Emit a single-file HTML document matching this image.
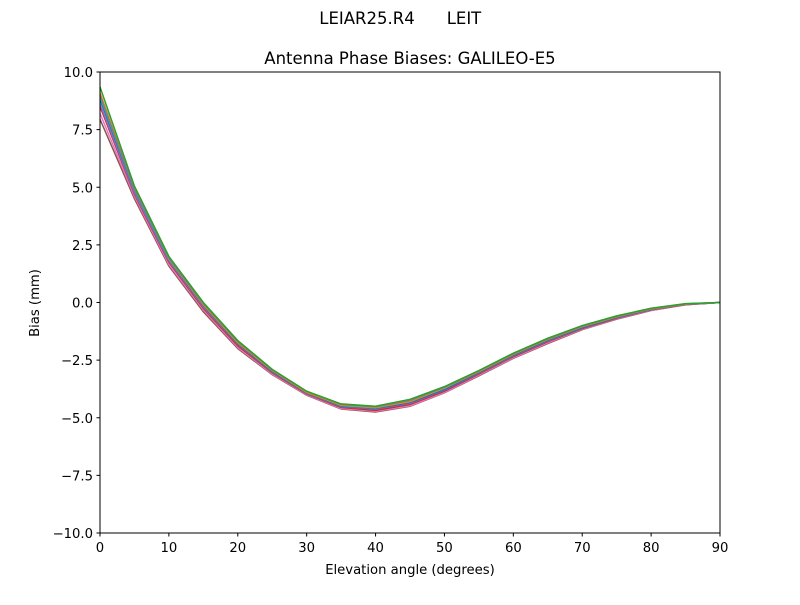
<!DOCTYPE html>
<html><head><meta charset="utf-8"><style>
body{margin:0;background:#fff;font-family:"Liberation Sans","DejaVu Sans",sans-serif}
svg text{font-family:"DejaVu Sans","Liberation Sans",sans-serif;fill:#000}
</style></head><body>
<svg id="chart" width="800" height="600">
<text x="367" y="24" font-size="16.5" text-anchor="middle">LEIAR25.R4</text>
<text x="464" y="24" font-size="16.5" text-anchor="middle">LEIT</text>
<text x="410" y="64" font-size="16.5" text-anchor="middle">Antenna Phase Biases: GALILEO-E5</text>
<g id="marks"></g>
<rect x="100" y="72" width="620" height="461" fill="none" stroke="#000" stroke-width="1"/>
<g id="axes"></g>
<text x="410" y="574" font-size="13.2" text-anchor="middle">Elevation angle (degrees)</text>
<text x="39" y="303" font-size="13.2" text-anchor="middle" transform="rotate(-90 39 303)">Bias (mm)</text>
</svg>
<script>
const elevations=[0,5,10,15,20,25,30,35,40,45,50,55,60,65,70,75,80,85,90];
const xTicks=[0,10,20,30,40,50,60,70,80,90];
const yTicks=[10,7.5,5,2.5,0,-2.5,-5,-7.5,-10];
const yTickLabels=["10.0","7.5","5.0","2.5","0.0","\u22122.5","\u22125.0","\u22127.5","\u221210.0"];
const colors=["#8c564b","#e377c2","#d62728","#9467bd","#1f77b4","#17becf","#ff7f0e","#7f7f7f","#bcbd22","#2ca02c"];
const s1=[9.35,5.05,2.0,0.0,-1.65,-2.9,-3.85,-4.4,-4.5,-4.2,-3.65,-2.95,-2.2,-1.55,-1.0,-0.58,-0.25,-0.05,0];
const s2=[9.1,4.95,1.9,-0.1,-1.75,-2.95,-3.9,-4.45,-4.55,-4.3,-3.7,-3.0,-2.25,-1.6,-1.05,-0.62,-0.28,-0.07,0];
const s3=[8.8,4.85,1.85,-0.15,-1.8,-3.0,-3.93,-4.5,-4.6,-4.35,-3.78,-3.05,-2.3,-1.65,-1.1,-0.65,-0.3,-0.08,0];
const s4=[8.5,4.7,1.75,-0.25,-1.88,-3.05,-3.97,-4.55,-4.68,-4.42,-3.85,-3.1,-2.35,-1.7,-1.13,-0.68,-0.32,-0.09,0];
const s5=[8.2,4.6,1.65,-0.32,-1.95,-3.1,-4.0,-4.6,-4.72,-4.48,-3.9,-3.15,-2.4,-1.75,-1.16,-0.7,-0.34,-0.1,0];
const s6=[7.95,4.5,1.58,-0.4,-2.0,-3.13,-4.02,-4.62,-4.75,-4.5,-3.92,-3.18,-2.42,-1.78,-1.18,-0.72,-0.35,-0.1,0];
const s7=[9.0,4.9,1.92,-0.05,-1.7,-2.92,-3.86,-4.42,-4.52,-4.25,-3.68,-2.97,-2.22,-1.58,-1.02,-0.6,-0.26,-0.06,0];
const s8=[8.6,4.75,1.8,-0.2,-1.82,-3.02,-3.95,-4.52,-4.62,-4.38,-3.8,-3.07,-2.32,-1.67,-1.11,-0.66,-0.31,-0.08,0];
const s9=[8.95,4.88,1.88,-0.08,-1.72,-2.93,-3.88,-4.47,-4.57,-4.28,-3.7,-2.98,-2.24,-1.59,-1.04,-0.61,-0.27,-0.06,0];
const series=[s6,s5,s4,s8,s3,s9,s2,s7,s1];
const X=v=>100+v/90*620, Y=v=>533-(v+10)/20*461;
const NS="http://www.w3.org/2000/svg";
const marks=document.getElementById('marks');
series.forEach((s,i)=>{
 const p=document.createElementNS(NS,'polyline');
 p.setAttribute('points',s.map((v,j)=>X(elevations[j])+','+Y(v)).join(' '));
 p.setAttribute('fill','none');p.setAttribute('stroke',colors[i===series.length-1?9:i%9]);p.setAttribute('stroke-width','1.5');
 
 
 marks.appendChild(p);
});
const ax=document.getElementById('axes');
xTicks.forEach(t=>{
 const l=document.createElementNS(NS,'line');
 l.setAttribute('x1',X(t));l.setAttribute('x2',X(t));l.setAttribute('y1',533);l.setAttribute('y2',536.5);l.setAttribute('stroke','#000');
 
 
 ax.appendChild(l);
 const tx=document.createElementNS(NS,'text');
 tx.setAttribute('x',X(t));tx.setAttribute('y',552);tx.setAttribute('font-size','13.2');tx.setAttribute('text-anchor','middle');tx.textContent=t;
 
 
 ax.appendChild(tx);
});
yTicks.forEach((t,i)=>{
 const l=document.createElementNS(NS,'line');
 l.setAttribute('x1',96.5);l.setAttribute('x2',100);l.setAttribute('y1',Y(t));l.setAttribute('y2',Y(t));l.setAttribute('stroke','#000');
 
 
 ax.appendChild(l);
 const tx=document.createElementNS(NS,'text');
 tx.setAttribute('x',93);tx.setAttribute('y',Y(t)+5);tx.setAttribute('font-size','13.2');tx.setAttribute('text-anchor','end');tx.textContent=yTickLabels[i];
 
 
 ax.appendChild(tx);
});
</script>
</body></html>
